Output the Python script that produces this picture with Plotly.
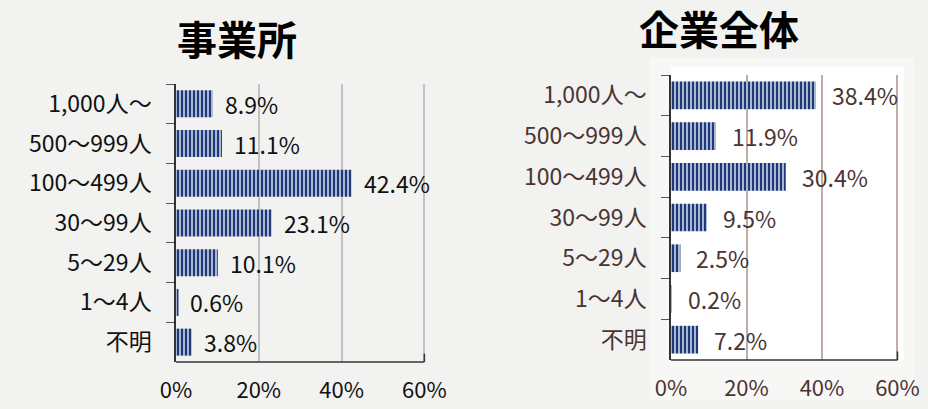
import plotly.graph_objects as go
from plotly.subplots import make_subplots

categories = ["1,000人～", "500～999人", "100～499人", "30～99人", "5～29人", "1～4人", "不明"]
office_values = [8.9, 11.1, 42.4, 23.1, 10.1, 0.6, 3.8]
company_values = [38.4, 11.9, 30.4, 9.5, 2.5, 0.2, 7.2]
x_ticks = [0, 20, 40, 60]
x_tick_labels = ["0%", "20%", "40%", "60%"]
titles = ["事業所", "企業全体"]

FONT = "Noto Sans CJK JP, Noto Sans, sans-serif"
BG = "#f2f2f0"
NAVY = "#1f3877"
LIGHT = "#b9c4dc"
LEFT_TXT = "#111111"
RIGHT_TXT = "#4a3432"

fig = make_subplots(rows=1, cols=2)

for i, vals in enumerate([office_values, company_values]):
    fig.add_trace(go.Bar(
        x=vals, y=categories, orientation="h",
        marker=dict(color=LIGHT, line=dict(width=0),
                    pattern=dict(shape="|", size=4, solidity=0.55,
                                 fgcolor=NAVY, bgcolor=LIGHT, fillmode="replace")),
        showlegend=False, hoverinfo="skip",
    ), row=1, col=i + 1)

# white panel behind right chart
fig.add_shape(type="rect", xref="paper", yref="paper",
              x0=0.70, x1=0.985, y0=0.02, y1=0.86,
              fillcolor="#f7f7f6", line=dict(width=0), layer="below")
fig.add_shape(type="rect", xref="x2 domain", yref="y2 domain",
              x0=0, x1=1.02, y0=0, y1=1.03,
              fillcolor="white", line=dict(width=0), layer="below")

annotations = []
for i, (vals, col, shift) in enumerate([(office_values, LEFT_TXT, 10), (company_values, RIGHT_TXT, 14)]):
    xr = "x" if i == 0 else "x2"
    yr = "y" if i == 0 else "y2"
    for c, v in zip(categories, vals):
        annotations.append(dict(x=v, y=c, xref=xr, yref=yr, text=f"{v:.1f}%",
                                xanchor="left", xshift=shift, showarrow=False,
                                font=dict(family=FONT, size=23, color=col)))

annotations.append(dict(x=237 / 928, y=1 - 38 / 409, xref="paper", yref="paper",
                        xanchor="center", yanchor="middle",
                        text="<b>" + titles[0] + "</b>", showarrow=False,
                        font=dict(family=FONT, size=40, color="#000")))
annotations.append(dict(x=719 / 928, y=1 - 28 / 409, xref="paper", yref="paper",
                        xanchor="center", yanchor="middle",
                        text="<b>" + titles[1] + "</b>", showarrow=False,
                        font=dict(family=FONT, size=40, color="#000")))

fig.update_layout(
    width=928, height=409,
    margin=dict(l=0, r=0, t=0, b=0),
    paper_bgcolor=BG, plot_bgcolor="rgba(0,0,0,0)",
    bargap=0.32,
    annotations=annotations,
    font=dict(family=FONT),
)

for i, (txt, grid) in enumerate([(LEFT_TXT, "#c2c2c2"), (RIGHT_TXT, "#bfaea8")]):
    ax = "xaxis" if i == 0 else "xaxis2"
    ay = "yaxis" if i == 0 else "yaxis2"
    xdom = [176 / 928, 426 / 928] if i == 0 else [671 / 928, 899 / 928]
    ydom = [1 - 362 / 409, 1 - 84 / 409] if i == 0 else [1 - 360 / 409, 1 - 75 / 409]
    fig.update_layout(**{
        ax: dict(domain=xdom, range=[0, 60.4], tickvals=x_ticks, ticktext=x_tick_labels,
                 showgrid=True, gridcolor=grid, gridwidth=2, zeroline=False,
                 showline=False, automargin=False,
                 ticks="", ticklabelstandoff=13,
                 tickfont=dict(family=FONT, size=22, color=txt), fixedrange=True),
        ay: dict(domain=ydom, autorange="reversed", type="category",
                 showline=True, linecolor="#333", linewidth=1.5, automargin=False,
                 ticks="outside", tickson="boundaries", ticklen=8, tickcolor="#555",
                 ticklabelstandoff=18, showgrid=False,
                 tickfont=dict(family=FONT, size=23, color=txt), fixedrange=True),
    })

# bottom axis lines from 0% to 60% (drawn on the data scale)
for xr, yr in [("x", "y domain"), ("x2", "y2 domain")]:
    fig.add_shape(type="line", xref=xr, yref=yr, x0=x_ticks[0], x1=x_ticks[-1],
                  y0=0, y1=0, line=dict(color="#333", width=1.5))
    fig.add_shape(type="line", xref=xr, yref=yr, x0=x_ticks[-1], x1=x_ticks[-1],
                  y0=0, y1=0.03, line=dict(color="#333", width=1.5))

fig.write_html(
    "out.html",
    config={"displayModeBar": False},
    post_script="document.body.style.margin='0';document.body.style.background='#f2f2f0';"
                "document.documentElement.style.overflow='hidden';",
)
